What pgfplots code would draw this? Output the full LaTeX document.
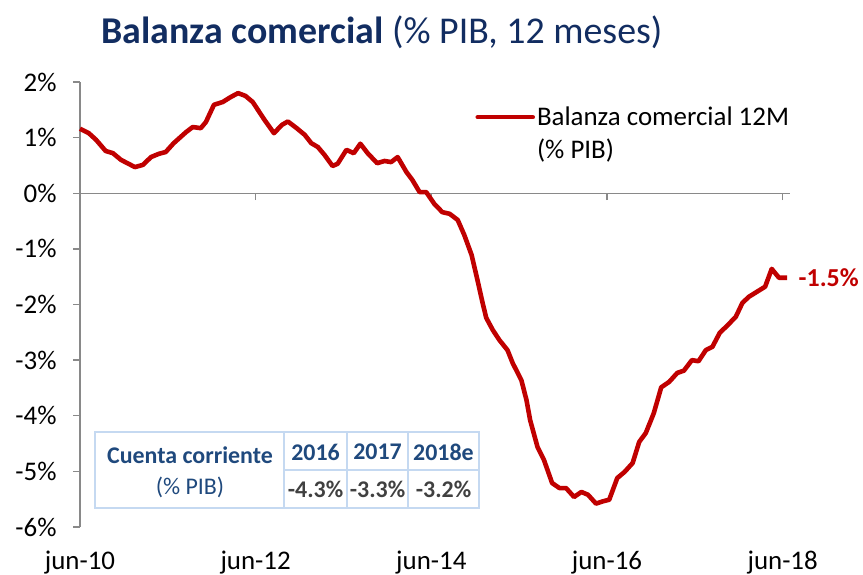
\documentclass[border=0pt]{standalone}
\usepackage{pgfplots}
\pgfplotsset{compat=1.18}
\usepackage{fontspec}
\setmainfont{Carlito}
\definecolor{serie}{RGB}{192,0,0}
\definecolor{titleblue}{RGB}{18,45,97}
\definecolor{tabblue}{RGB}{31,73,125}
\definecolor{tabgray}{RGB}{64,64,64}
\definecolor{tabline}{RGB}{197,217,241}
\definecolor{axgray}{RGB}{137,137,137}
\begin{document}
\begin{tikzpicture}[x=1bp,y=1bp]
\begin{axis}[
  at={(80bp,48bp)}, anchor=south west,
  scale only axis, width=710bp, height=445bp,
  xmin=0, xmax=97, ymin=-6, ymax=2,
  axis x line=middle, axis y line=left,
  axis line style={-, draw=axgray, line width=1.3bp},
  hide obscured x ticks=false, hide obscured y ticks=false,
  tick align=outside, major tick length=7bp,
  tick style={draw=axgray, line width=1.3bp},
  xtick={0,24,48,72,96},
  xticklabels={jun-10,jun-12,jun-14,jun-16,jun-18},
  ytick={-6,-5,-4,-3,-2,-1,0,1,2},
  yticklabels={-6\%,-5\%,-4\%,-3\%,-2\%,-1\%,0\%,1\%,2\%},
  tick label style={font=\fontsize{27}{31}\selectfont, text=black},
  xticklabel style={anchor=north, yshift=-347bp},
  yticklabel style={anchor=east, xshift=-13bp},
  minor tick num=0,
  clip=false,
  legend style={draw=none, fill=none, at={(axis cs:54,1.08)}, anchor=west,
    font=\fontsize{27}{33}\selectfont, cells={anchor=west, align=left},
    inner sep=0pt},
  legend image code/.code={\draw[#1, line cap=round] (0bp,16bp) -- (55bp,16bp);},
]
\addplot[serie, line width=4.6bp, line join=round] table {
x y
0 1.16
1.2 1.08
2.2 0.96
3.5 0.76
4.5 0.72
5.6 0.60
7.5 0.47
8.6 0.51
9.7 0.65
10.8 0.71
11.7 0.74
12.8 0.90
14.5 1.10
15.4 1.19
16.5 1.17
17.2 1.28
18.3 1.59
19.5 1.64
20.6 1.73
21.6 1.80
22.6 1.75
23.6 1.64
25.2 1.32
26.5 1.08
27.6 1.23
28.4 1.29
29.6 1.17
30.7 1.05
31.6 0.90
32.5 0.83
33.4 0.69
34.5 0.49
35.2 0.53
36.4 0.78
37.4 0.72
38.3 0.89
39.3 0.72
40.6 0.54
41.6 0.58
42.5 0.56
43.4 0.65
44.6 0.38
45.4 0.24
46.4 0.02
47.3 0.02
48.4 -0.19
49.5 -0.34
50.5 -0.37
51.6 -0.48
52.5 -0.75
53.5 -1.11
54.3 -1.56
55.0 -1.97
55.5 -2.24
56.4 -2.46
57.3 -2.64
58.4 -2.82
59.1 -3.05
60.3 -3.36
61.0 -3.72
61.5 -4.08
62.5 -4.56
63.4 -4.80
64.5 -5.21
65.5 -5.30
66.4 -5.30
67.5 -5.46
68.5 -5.37
69.4 -5.42
70.5 -5.58
71.4 -5.54
72.3 -5.51
73.4 -5.12
74.4 -5.01
75.5 -4.85
76.4 -4.47
77.3 -4.31
78.4 -3.95
79.4 -3.49
80.5 -3.39
81.6 -3.23
82.5 -3.19
83.6 -3.00
84.5 -3.02
85.5 -2.82
86.4 -2.76
87.4 -2.51
88.5 -2.37
89.6 -2.22
90.5 -1.97
91.4 -1.86
92.5 -1.77
93.6 -1.68
94.5 -1.36
95.5 -1.52
96.6 -1.52
} node[pos=1, anchor=west, xshift=6bp, text=serie, font=\bfseries\fontsize{26}{30}\selectfont] {-1.5\%};
\addlegendentry{Balanza comercial 12M\\(\% PIB)}
\end{axis}
% title
\node[anchor=base, text=titleblue, font=\fontsize{38}{42}\selectfont] at (382,531)
  {\textbf{Balanza comercial} (\% PIB, 12 meses)};
% table
\begin{scope}[line width=2bp, draw=tabline]
\draw[tabline] (95,67) rectangle (479,143);
\draw[tabline] (284,67) -- (284,143);
\draw[tabline] (347,67) -- (347,143);
\draw[tabline] (408,67) -- (408,143);
\draw[tabline] (284,105) -- (479,105);
\end{scope}
\begin{scope}[every node/.style={font=\fontsize{24}{28}\selectfont}]
\node[text=tabblue, font=\bfseries\fontsize{24}{28}\selectfont] at (190,120) {Cuenta corriente};
\node[text=tabblue] at (190,88) {(\% PIB)};
\node[text=tabblue, font=\bfseries\fontsize{24}{28}\selectfont] at (315.5,123) {2016};
\node[text=tabblue, font=\bfseries\fontsize{24}{28}\selectfont] at (377.5,123) {2017};
\node[text=tabblue, font=\bfseries\fontsize{24}{28}\selectfont] at (443.5,123) {2018e};
\node[text=tabgray, font=\bfseries\fontsize{24}{28}\selectfont] at (315.5,86) {-4.3\%};
\node[text=tabgray, font=\bfseries\fontsize{24}{28}\selectfont] at (377.5,86) {-3.3\%};
\node[text=tabgray, font=\bfseries\fontsize{24}{28}\selectfont] at (443.5,86) {-3.2\%};
\end{scope}
\pgfresetboundingbox
\path[use as bounding box] (0,0) rectangle (863,575);
\end{tikzpicture}
\end{document}
